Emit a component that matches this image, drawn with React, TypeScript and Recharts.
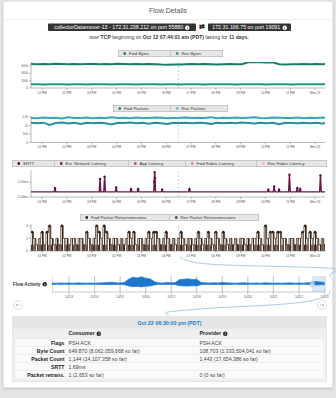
import React from 'react'
import {
  LineChart, Line, XAxis, YAxis, ReferenceLine, ComposedChart, Bar,
  AreaChart, Area, CartesianGrid, ReferenceArea, ReferenceDot,
} from 'recharts'

const FONT = '"Liberation Sans", Arial, sans-serif'
// everything is laid out at 2x and scaled down, so the tiny text stays crisp
const K = 2

// time axis: minutes after 12:00 PM, Oct 22
const hourTicks = [60, 120, 180, 240, 300, 360, 420, 480, 540, 600, 660, 720]
const hourLabels = ['01 PM', '02 PM', '03 PM', '04 PM', '05 PM', '06 PM', '07 PM', '08 PM', '09 PM', '10 PM', '11 PM', 'Mon 23']
const selectedTime = 390 // 06:30 PM

const sampleTimes = [33, 48, 63, 78, 93, 108, 123, 138, 153, 168, 183, 198, 213, 228, 243, 258, 273, 288, 303, 318, 333, 348, 363, 378, 393, 408, 423, 438, 453, 468, 483, 498, 513, 528, 543, 558, 573, 588, 603, 618, 633, 648, 663, 678, 693, 708, 723, 738, 744]

// bytes, in thousands
const fwdBytes = [645, 640, 648, 642, 650, 644, 638, 646, 641, 649, 643, 639, 647, 642, 650, 645, 637, 644, 640, 648, 642, 630, 626, 632, 636, 640, 644, 638, 646, 641, 636, 640, 644, 638, 642, 690, 695, 692, 688, 694, 640, 636, 642, 638, 644, 640, 646, 642, 645]
const revBytes = [98, 100, 97, 99, 101, 98, 96, 99, 100, 97, 99, 98, 101, 97, 99, 100, 98, 96, 99, 101, 98, 97, 100, 99, 97, 98, 100, 99, 97, 101, 98, 99, 100, 97, 98, 99, 101, 98, 97, 100, 99, 98, 97, 100, 99, 98, 101, 99, 98]

const fwdPackets = [1150, 1120, 1160, 1030, 1140, 1170, 1110, 1150, 1090, 1160, 1130, 1150, 1120, 1060, 1150, 1140, 1170, 1120, 1150, 1100, 1160, 1130, 1080, 1150, 1144, 1160, 1120, 1150, 1140, 1090, 1160, 1130, 1150, 1120, 1170, 1140, 1110, 1150, 1130, 1160, 1070, 1150, 1140, 1120, 1160, 1130, 1150, 1110, 1140]
const revPackets = [1440, 1420, 1460, 1430, 1450, 1410, 1470, 1440, 1430, 1460, 1420, 1450, 1440, 1470, 1430, 1450, 1420, 1460, 1440, 1430, 1460, 1450, 1420, 1440, 1443, 1460, 1430, 1450, 1440, 1470, 1420, 1450, 1440, 1460, 1430, 1450, 1470, 1440, 1420, 1460, 1450, 1430, 1440, 1460, 1420, 1450, 1440, 1460, 1440]

// latency (ms) at [minute, value]
const srttPoints = [
  [33, 1.7], [89, 1.7], [91, 2.9], [93, 1.7], [150, 1.7], [198, 1.7], [200, 6.0], [202, 1.7],
  [209, 1.7], [211, 6.8], [213, 1.7], [237, 1.7], [239, 3.2], [241, 1.7], [273, 1.7], [275, 2.6],
  [277, 1.7], [290, 1.7], [292, 2.6], [294, 1.7], [330, 1.7], [331, 5.2], [332, 8.3], [333, 6.3],
  [334, 1.7], [348, 1.7], [350, 2.4], [352, 1.7], [414, 1.7], [416, 2.6], [418, 1.7], [500, 1.7],
  [605, 1.7], [607, 2.4], [609, 1.7], [619, 1.7], [621, 3.5], [623, 1.7], [631, 1.7], [633, 2.4],
  [635, 1.7], [656, 1.7], [658, 7.4], [660, 1.7], [675, 1.7], [677, 3.0], [679, 1.7], [682, 1.7],
  [684, 2.6], [686, 1.7], [731, 1.7], [733, 7.2], [735, 1.7], [744, 1.7],
]

// retransmissions, one sample every 6 minutes from 12:36 PM
const retransStart = 36
const retransStep = 6
const fwdRetrans = [3, 2, 1, 2, 3, 1, 3, 4, 2, 1, 2, 1, 4, 2, 2, 1, 2, 2, 1, 2, 2, 1, 3, 2, 1, 2, 4, 3, 2, 4, 3, 2, 1, 2, 2, 1, 2, 1, 2, 3, 2, 3, 1, 2, 2, 1, 2, 3, 2, 3, 3, 2, 1, 2, 3, 2, 1, 2, 1, 2, 3, 2, 1, 2, 2, 1, 2, 3, 2, 1, 2, 3, 2, 1, 3, 2, 1, 3, 2, 1, 2, 1, 2, 1, 2, 2, 1, 2, 1, 2, 2, 3, 2, 1, 4, 2, 3, 3, 2, 3, 3, 2, 2, 1, 2, 2, 1, 2, 2, 3, 4, 2, 3, 2, 3, 2, 1, 2, 1]
const revRetrans = [1, 1, 0, 1, 1, 1, 0, 1, 1, 0, 1, 1, 1, 0, 1, 1, 0, 1, 1, 1, 0, 1, 1, 0, 1, 1, 1, 1, 0, 1, 1, 0, 1, 1, 1, 0, 1, 1, 0, 1, 1, 1, 0, 1, 0, 1, 1, 1, 0, 1, 1, 0, 1, 1, 1, 0, 1, 1, 0, 1, 1, 1, 0, 1, 1, 0, 1, 1, 1, 0, 1, 1, 1, 0, 1, 0, 1, 1, 1, 0, 1, 1, 0, 1, 1, 1, 0, 1, 1, 0, 1, 1, 1, 0, 1, 1, 1, 0, 1, 1, 0, 1, 0, 1, 1, 0, 1, 1, 1, 0, 1, 1, 0, 1, 1, 1, 0, 1, 1]

// flow activity: hours after Oct 12 00:00, one sample every 4 hours from 08:00
const flowStart = 8
const flowStep = 4
const flowActivity = [0.12, 0.1, 0.12, 0.1, 0.12, 0.1, 0.14, 0.12, 0.1, 0.12, 0.1, 0.12, 0.15, 0.2, 0.22, 0.15, 0.12, 0.2, 0.6, 0.85, 0.75, 0.9, 0.7, 0.65, 0.3, 0.15, 0.12, 0.18, 0.15, 0.2, 0.55, 0.6, 0.65, 0.55, 0.6, 0.2, 0.15, 0.12, 0.15, 0.12, 0.2, 0.15, 0.12, 0.1, 0.12, 0.15, 0.12, 0.1, 0.12, 0.1, 0.15, 0.12, 0.1, 0.12, 0.1, 0.12, 0.15, 0.1, 0.12, 0.1, 0.15, 0.2, 0.3, 0.25, 0.2]
const dayTicks = [24, 48, 72, 96, 120, 144, 168, 192, 216, 240, 264]
const dayLabels = ['10/13', '10/14', '10/15', '10/16', '10/17', '10/18', '10/19', '10/20', '10/21', '10/22', '10/23']
const windowStart = 252.5
const windowEnd = 264.4

const rowLabels = ['Flags', 'Byte Count', 'Packet Count', 'SRTT', 'Packet retrans.']
const consumerValues = ['PSH ACK', '649,870 (8,062,059,668 so far)', '1,144 (14,107,358 so far)', '1.69ms', '1 (2,653 so far)']
const providerValues = ['PSH ACK', '108,703 (1,333,504,041 so far)', '1,443 (17,654,386 so far)', '', '0 (0 so far)']

const bytesData = sampleTimes.map((t, i) => ({ t, fwd: fwdBytes[i], rev: revBytes[i] }))
const packetsData = sampleTimes.map((t, i) => ({ t, fwd: fwdPackets[i], rev: revPackets[i] }))
const latencyData = srttPoints.map(([t, v]) => ({ t, srtt: v }))
const retransData = fwdRetrans.map((v, i) => ({ t: retransStart + i * retransStep, fwd: v, rev: revRetrans[i] }))
const flowData = flowActivity.map((v, i) => ({ h: flowStart + i * flowStep, range: [-0.4 * v, v] }))

const tickStyle = { fontSize: 3.1 * K, fill: '#555', fontFamily: FONT }
const axisStroke = '#777'
const margin = { top: 3 * K, right: 11 * K, left: 0, bottom: 0 }
const refStroke = '#6aaed6'

function timeAxis() {
  return (
    <XAxis
      dataKey="t" type="number" domain={[33, 744]} ticks={hourTicks} allowDataOverflow
      tickFormatter={(v) => hourLabels[hourTicks.indexOf(v)]}
      tick={tickStyle} tickSize={2 * K} tickMargin={1.5 * K} height={12 * K} stroke={axisStroke} interval={0}
    />
  )
}

function yAxis(domain, ticks, fmt?) {
  return (
    <YAxis domain={domain} ticks={ticks} tickFormatter={fmt} interval={0} allowDataOverflow
      tick={tickStyle} tickSize={2 * K} tickMargin={1 * K} width={31 * K} stroke={axisStroke} />
  )
}

function Info({ dark = true, size = 4.5 }) {
  return (
    <span style={{
      display: 'inline-block', width: size * K, height: size * K, borderRadius: '50%',
      background: dark ? '#222' : '#fff', color: dark ? '#fff' : '#333',
      fontSize: size * 0.8 * K, lineHeight: `${size * K}px`, textAlign: 'center', fontWeight: 700,
      verticalAlign: 'middle', marginLeft: 2 * K,
    }}>i</span>
  )
}

function LegendBox({ left, top, items }) {
  return (
    <div style={{
      position: 'absolute', left: left * K, top: top * K, height: 6 * K, display: 'flex',
      border: `${0.5 * K}px solid #aaa`, background: '#e6e6e6', fontSize: 4.3 * K, color: '#333',
    }}>
      {items.map((it, i) => (
        <div key={it.name} style={{
          width: it.width * K, display: 'flex', alignItems: 'center', paddingLeft: 5 * K, boxSizing: 'border-box',
          borderLeft: i ? `${0.5 * K}px solid #aaa` : 'none', whiteSpace: 'nowrap',
        }}>
          <span style={{ width: 2.6 * K, height: 2.6 * K, borderRadius: '50%', background: it.color, marginRight: 3 * K, flexShrink: 0 }} />
          {it.name}
        </div>
      ))}
    </div>
  )
}

const spikeDot = (props) => {
  const { cx, cy, payload, index } = props
  if (payload.srtt < 2) return <g key={index} />
  return <circle key={index} cx={cx} cy={cy} r={1.2 * K} fill="#5e0f3c" />
}

const retransDot = (props) => {
  const { cx, cy, payload, index } = props
  if (payload.fwd < 3) return <g key={index} />
  return <circle key={index} cx={cx} cy={cy} r={1.3 * K} fill="#3a2214" />
}

function Pill({ children, left, width }) {
  return (
    <div style={{
      position: 'absolute', left: left * K, top: 23.5 * K, width: width * K, height: 7.3 * K, background: '#333', color: '#fff',
      fontSize: 5.3 * K, lineHeight: `${7.3 * K}px`, textAlign: 'center', borderRadius: K, whiteSpace: 'nowrap',
    }}>{children}</div>
  )
}

function ChartBox({ top, left = 0, children }) {
  return <div style={{ position: 'absolute', left: left * K, top: top * K }}>{children}</div>
}

export default function App() {
  return (
    <div style={{ position: 'absolute', left: 0, top: 0, width: 336, height: 398, overflow: 'hidden' }}>
      <div style={{
        position: 'absolute', left: 0, top: 0, width: 336 * K, height: 398 * K, background: '#e4e4e4',
        transform: `scale(${1 / K})`, transformOrigin: '0 0', fontFamily: FONT,
      }}>
        <div style={{ position: 'absolute', left: 3 * K, top: 1 * K, width: 329 * K, height: 386 * K, background: '#fff', border: `${K / 2}px solid #cfcfcf`, boxShadow: '0 2px 4px rgba(0,0,0,0.15)' }} />

        <div style={{ position: 'absolute', left: 0, width: 336 * K, top: 6 * K, textAlign: 'center', fontSize: 7 * K, color: '#555' }}>Flow Details</div>
        <div style={{ position: 'absolute', left: 4 * K, width: 328 * K, top: 19 * K, height: 0.6 * K, background: '#ddd' }} />

        <Pill left={48} width={148}>collectorDatamover-13 - 172.31.238.212 on port 55880<Info dark={false} /></Pill>
        <div style={{ position: 'absolute', left: 199 * K, top: 22.5 * K, fontSize: 6.5 * K, color: '#222', fontWeight: 700 }}>⇄</div>
        <Pill left={208} width={83}>172.31.166.75 on port 19091<Info dark={false} /></Pill>
        <div style={{ position: 'absolute', left: 0, width: 338 * K, top: 34.5 * K, textAlign: 'center', fontSize: 5.1 * K, color: '#333' }}>
          over <b>TCP</b> beginning on <b>Oct 12 07:44:01 am (PDT)</b> lasting for <b>11 days.</b>
        </div>

        <LegendBox left={118} top={50} items={[
          { name: 'Fwd Bytes', color: '#17806a', width: 52 },
          { name: 'Rev Bytes', color: '#2a9d80', width: 52 },
        ]} />
        <ChartBox top={59}>
          <LineChart width={336 * K} height={41 * K} data={bytesData} margin={margin}>
            {timeAxis()}
            {yAxis([0, 700], [0, 200, 400, 600], (v) => (v ? `${v}k` : '0'))}
            <ReferenceLine x={selectedTime} stroke={refStroke} strokeDasharray={`${2 * K} ${2 * K}`} />
            <Line dataKey="fwd" stroke="#17806a" strokeWidth={2 * K} dot={false} isAnimationActive={false} />
            <Line dataKey="rev" stroke="#23967a" strokeWidth={2 * K} dot={false} isAnimationActive={false} />
          </LineChart>
        </ChartBox>

        <LegendBox left={113} top={105} items={[
          { name: 'Fwd Packets', color: '#237f94', width: 57 },
          { name: 'Rev Packets', color: '#62bfd4', width: 57 },
        ]} />
        <ChartBox top={113}>
          <LineChart width={336 * K} height={41.5 * K} data={packetsData} margin={margin}>
            {timeAxis()}
            {yAxis([0, 1550], [0, 500, 1000, 1500], (v) => (v >= 1000 ? `${v / 1000}k` : `${v}`))}
            <ReferenceLine x={selectedTime} stroke={refStroke} strokeDasharray={`${2 * K} ${2 * K}`} />
            <Line dataKey="fwd" stroke="#2a8ea6" strokeWidth={2 * K} dot={false} isAnimationActive={false} />
            <Line dataKey="rev" stroke="#3aa3bd" strokeWidth={2 * K} dot={false} isAnimationActive={false} />
          </LineChart>
        </ChartBox>

        <LegendBox left={12} top={160} items={[
          { name: 'SRTT', color: '#4a0c26', width: 42 },
          { name: 'Est. Network Latency', color: '#7a1a55', width: 74 },
          { name: 'App Latency', color: '#b0508a', width: 57 },
          { name: 'Fwd Fabric Latency', color: '#e07ab5', width: 71 },
          { name: 'Rev Fabric Latency', color: '#f2b6d6', width: 70 },
        ]} />
        <ChartBox top={167}>
          <LineChart width={336 * K} height={42 * K} data={latencyData} margin={margin}>
            {timeAxis()}
            {yAxis([0, 9], [0, 5], (v) => `${v.toFixed(2)}ms`)}
            <ReferenceLine x={selectedTime} stroke={refStroke} strokeDasharray={`${2 * K} ${2 * K}`} />
            <Line dataKey="srtt" type="linear" stroke="#6b1446" strokeWidth={1.4 * K} dot={spikeDot} isAnimationActive={false} />
          </LineChart>
        </ChartBox>

        <LegendBox left={80} top={214} items={[
          { name: 'Fwd Packet Retransmissions', color: '#2e1a10', width: 89 },
          { name: 'Rev Packet Retransmissions', color: '#6b4330', width: 89 },
        ]} />
        <ChartBox top={221}>
          <ComposedChart width={336 * K} height={42 * K} data={retransData} margin={margin} barGap={0}>
            {timeAxis()}
            {yAxis([0, 4.3], [0, 2, 4])}
            <ReferenceLine x={selectedTime} stroke={refStroke} strokeDasharray={`${2 * K} ${2 * K}`} />
            <Bar dataKey="rev" fill="#4a2a1a" barSize={2 * K} isAnimationActive={false} />
            <Bar dataKey="fwd" fill="#3a2214" barSize={0.6 * K} isAnimationActive={false} />
            <Line dataKey="fwd" type="step" stroke="#3a2214" strokeWidth={0.7 * K} dot={retransDot} isAnimationActive={false} />
          </ComposedChart>
        </ChartBox>

        <div style={{ position: 'absolute', left: 13 * K, top: 281.5 * K, fontSize: 4.5 * K, fontWeight: 700, color: '#333', whiteSpace: 'nowrap' }}>
          Flow Activity<Info />
        </div>
        <ChartBox top={276} left={52}>
          <AreaChart width={284 * K} height={28 * K} data={flowData} margin={{ top: 0, right: 11 * K, left: 0, bottom: 0 }}>
            <CartesianGrid horizontal={false} stroke="#999" strokeWidth={0.6 * K} />
            <XAxis dataKey="h" type="number" domain={[8, 264.5]} ticks={dayTicks} allowDataOverflow interval={0}
              tickFormatter={(v) => dayLabels[dayTicks.indexOf(v)]} tick={{ ...tickStyle, fontSize: 3.2 * K }}
              tickSize={3 * K} tickMargin={1 * K} height={12 * K} stroke="#999" />
            <YAxis hide domain={[-1, 1]} />
            <ReferenceArea x1={windowStart} x2={windowEnd} fill="#cfe5f5" fillOpacity={0.9} stroke="none" />
            <Area dataKey="range" type="linear" stroke="#2a86d4" strokeWidth={0.8 * K} fill="#1f74cc" fillOpacity={1} isAnimationActive={false} />
            <ReferenceDot x={windowStart} y={0} r={2.5 * K} fill="#fff" fillOpacity={0.6} stroke="#8aa" strokeWidth={0.6 * K} />
          </AreaChart>
        </ChartBox>

        <svg width={336 * K} height={398 * K} viewBox="0 0 336 398" style={{ position: 'absolute', left: 0, top: 0, pointerEvents: 'none' }}>
          <path d="M180 257 C 190 266, 230 265, 300 267 S 322 270, 331 277" fill="none" stroke="#8cc2e2" strokeWidth={0.8} />
          <path d="M330 291 C 328 306, 250 305, 200 309 S 170 312, 168 316" fill="none" stroke="#8cc2e2" strokeWidth={0.8} />
          <circle cx={18} cy={305} r={4.5} fill="#fff" stroke="#ccc" strokeWidth={0.6} />
          <path d="M20 305 H16 M17.3 303.7 L16 305 L17.3 306.3" fill="none" stroke="#888" strokeWidth={0.5} />
          <circle cx={322} cy={305} r={4.5} fill="#fff" stroke="#ccc" strokeWidth={0.6} />
          <path d="M320 305 H324 M322.7 303.7 L324 305 L322.7 306.3" fill="none" stroke="#888" strokeWidth={0.5} />
        </svg>

        <div style={{ position: 'absolute', left: 12 * K, top: 316 * K, width: 314 * K, height: 65 * K, background: '#efefef', border: `${K / 2}px solid #ddd` }}>
          <div style={{ height: 12 * K, background: '#e6e6e6', textAlign: 'center', fontSize: 5.3 * K, lineHeight: `${12 * K}px`, color: '#1a7fc8', fontWeight: 700 }}>
            Oct 22 06:30:00 pm (PDT)
          </div>
          <div style={{ position: 'relative', height: 10 * K, fontSize: 5.3 * K, fontWeight: 700, color: '#222' }}>
            <span style={{ position: 'absolute', left: 56 * K, top: 1.5 * K }}>Consumer<Info /></span>
            <span style={{ position: 'absolute', left: 187 * K, top: 1.5 * K }}>Provider<Info /></span>
          </div>
          {rowLabels.map((label, i) => (
            <div key={label} style={{
              position: 'relative', height: 7.5 * K, margin: `0 ${3 * K}px`, background: '#fafafa',
              borderTop: `${K / 2}px solid #e2e2e2`, fontSize: 5.2 * K, lineHeight: `${7.5 * K}px`, color: '#444',
            }}>
              <span style={{ position: 'absolute', left: 0, width: 49 * K, textAlign: 'right', fontWeight: 700, color: '#222', whiteSpace: 'nowrap' }}>{label}</span>
              <span style={{ position: 'absolute', left: 53 * K, whiteSpace: 'nowrap' }}>{consumerValues[i]}</span>
              <span style={{ position: 'absolute', left: 184 * K, whiteSpace: 'nowrap' }}>{providerValues[i]}</span>
            </div>
          ))}
        </div>
      </div>
    </div>
  )
}
